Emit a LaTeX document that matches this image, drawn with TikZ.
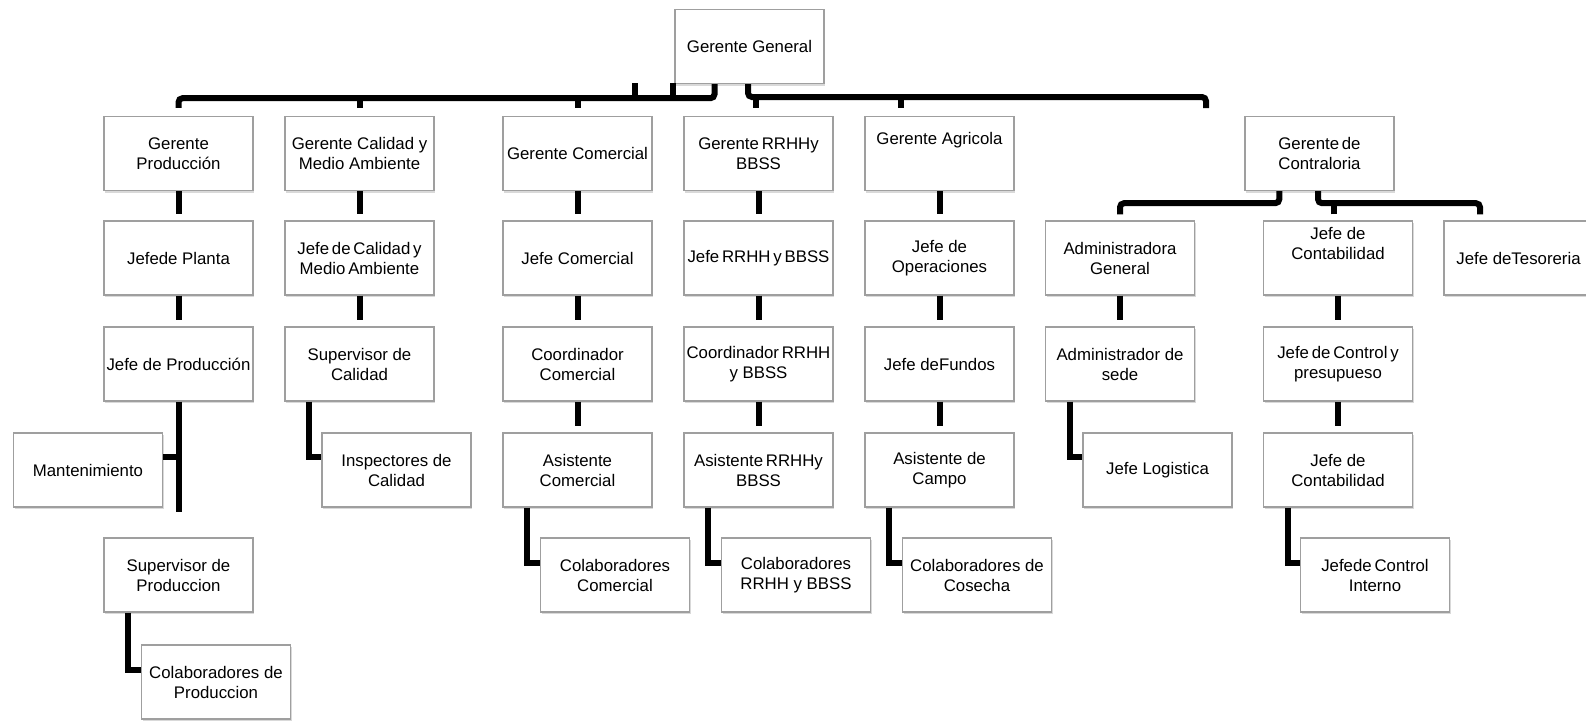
\documentclass[tikz,border=0pt]{standalone}
\usepackage{fontspec}
\setmainfont{Liberation Sans}
\usetikzlibrary{shadows}

\begin{document}
\begin{tikzpicture}[x=0.5pt,y=-0.5pt,
  puesto/.style={draw=gray!75,line width=0.7pt,fill=white,align=center,
    minimum width=74.5pt,minimum height=37pt,inner sep=1pt,
    font=\fontsize{8.4}{10}\selectfont,
    drop shadow={shadow xshift=0.6pt,shadow yshift=-1.2pt,opacity=0.3}},
  arriba/.style={text depth=15pt},
  conn/.style={line width=3pt,line join=miter}]

\useasboundingbox (0,0) rectangle (1586,720);

\node[puesto] (gg) at (749.5,46.5) {Gerente General};

% gerentes
\node[puesto] (gprod) at (178.5,153.5) {Gerente\\Producción};
\node[puesto] (gcal) at (359.5,153.5) {Gerente Calidad y\\Medio Ambiente};
\node[puesto] (gcom) at (577.5,153.5) {Gerente Comercial};
\node[puesto] (grrhh) at (758.5,153.5) {Gerente\,RRHHy\\BBSS};
\node[puesto,arriba] (gagr) at (939.5,153.5) {Gerente Agricola};
\node[puesto] (gcon) at (1319.5,153.5) {Gerente\,de\\Contraloria};

% jefes
\node[puesto] (jplan) at (178.5,258) {Jefede Planta};
\node[puesto] (jcal) at (359.5,258) {Jefe\,de\,Calidad\,y\\Medio\,Ambiente};
\node[puesto] (jcom) at (577.5,258) {Jefe Comercial};
\node[puesto] (jrrhh) at (758.5,258) {Jefe\,RRHH\,y\,BBSS};
\node[puesto] (jope) at (939.5,258) {Jefe de\\Operaciones};
\node[puesto] (adm) at (1120,258) {Administradora\\General};
\node[puesto,arriba] (jcont) at (1338,258) {Jefe de\\Contabilidad};
\node[puesto] (jtes) at (1518.5,258) {Jefe deTesoreria};

\node[puesto] (jprod) at (178.5,364) {Jefe de Producción};
\node[puesto] (scal) at (359.5,364) {Supervisor de\\Calidad};
\node[puesto] (ccom) at (577.5,364) {Coordinador\\Comercial};
\node[puesto] (crrhh) at (758.5,364) {Coordinador\,RRHH\\y BBSS};
\node[puesto] (jfun) at (939.5,364) {Jefe deFundos};
\node[puesto] (asede) at (1120,364) {Administrador de\\sede};
\node[puesto] (jpres) at (1338,364) {Jefe\,de\,Control\,y\\presupueso};

\node[puesto] (mant) at (88,470) {Mantenimiento};
\node[puesto] (insp) at (396.5,470) {Inspectores de\\Calidad};
\node[puesto] (acom) at (577.5,470) {Asistente\\Comercial};
\node[puesto] (arrhh) at (758.5,470) {Asistente\,RRHHy\\BBSS};
\node[puesto] (acam) at (939.5,470) {Asistente de\\Campo};
\node[puesto] (jlog) at (1157.5,470) {Jefe Logistica};
\node[puesto] (jcont2) at (1338,470) {Jefe de\\Contabilidad};

\node[puesto] (sprod) at (178.5,575) {Supervisor de\\Produccion};
\node[puesto] (colcom) at (615,575) {Colaboradores\\Comercial};
\node[puesto] (colrrhh) at (796,575) {Colaboradores\\RRHH y BBSS};
\node[puesto] (colcos) at (977,575) {Colaboradores de\\Cosecha};
\node[puesto] (jint) at (1375,575) {Jefede\,Control\\Interno};

\node[puesto] (colprod) at (216,682) {Colaboradores de\\Produccion};

% barra superior
\coordinate (busl) at (178.5,97);
\coordinate (busr) at (1206,97);
\coordinate (s1) at (635,83);
\coordinate (s2) at (673,83);
\draw[conn,rounded corners=2pt] ([xshift=-17.5pt]gg.south) -- ++(0,14) -| ([yshift=4pt]gprod.north);
\draw[conn] (s1) -- (s1 |- busl);
\draw[conn] (s2) -- (s2 |- busl);
\draw[conn] ([yshift=4pt]gcal.north) -- (gcal.north |- busl);
\draw[conn] ([yshift=4pt]gcom.north) -- (gcom.north |- busl);
\draw[conn,rounded corners=2pt] ([xshift=-0.75pt]gg.south) |- (busr) -- ++(0,11);
\draw[conn] ([xshift=-1.5pt,yshift=4pt]grrhh.north) -- ++(0,-11);
\draw[conn] ([xshift=-19.25pt,yshift=4pt]gagr.north) -- ++(0,-11);

% lineas verticales
\draw[conn] (gprod) -- ([yshift=3pt]jplan.north);
\draw[conn] (jplan) -- ([yshift=3pt]jprod.north);
\draw[conn] (gcal) -- ([yshift=3pt]jcal.north);
\draw[conn] (jcal) -- ([yshift=3pt]scal.north);
\draw[conn] (gcom) -- ([yshift=3pt]jcom.north);
\draw[conn] (jcom) -- ([yshift=3pt]ccom.north);
\draw[conn] (ccom) -- ([yshift=3pt]acom.north);
\draw[conn] (grrhh) -- ([yshift=3pt]jrrhh.north);
\draw[conn] (jrrhh) -- ([yshift=3pt]crrhh.north);
\draw[conn] (crrhh) -- ([yshift=3pt]arrhh.north);
\draw[conn] (gagr) -- ([yshift=3pt]jope.north);
\draw[conn] (jope) -- ([yshift=3pt]jfun.north);
\draw[conn] (jfun) -- ([yshift=3pt]acam.north);
\draw[conn] (adm) -- ([yshift=3pt]asede.north);
\draw[conn] (jcont) -- ([yshift=3pt]jpres.north);
\draw[conn] (jpres) -- ([yshift=3pt]jcont2.north);

% contraloria
\draw[conn,rounded corners=2pt] ([xshift=17.5pt]gcon.south west) -- ++(0,12) -| ([yshift=3pt]adm.north);
\draw[conn,rounded corners=2pt] ([xshift=-0.75pt]gcon.south) -- ++(0,12) -| ([xshift=-19.25pt,yshift=3pt]jtes.north);
\draw[conn] ([xshift=-2pt,yshift=3pt]jcont.north) -- ++(0,-12);

% produccion
\coordinate (pfin) at (178.5,512);
\draw[conn] (jprod) -- (pfin);
\draw[conn] ([yshift=6.5pt]mant.east) -| (jprod.south);

% esquinas
\draw[conn] ([xshift=12.25pt]sprod.south west) |- ([yshift=6pt]colprod.west);
\draw[conn] ([xshift=12.25pt]scal.south west) |- ([yshift=6.5pt]insp.west);
\draw[conn] ([xshift=12.5pt]acom.south west) |- ([yshift=6pt]colcom.west);
\draw[conn] ([xshift=12.25pt]arrhh.south west) |- ([yshift=6pt]colrrhh.west);
\draw[conn] ([xshift=12.25pt]acam.south west) |- ([yshift=6pt]colcos.west);
\draw[conn] ([xshift=12.5pt]asede.south west) |- ([yshift=6.5pt]jlog.west);
\draw[conn] ([xshift=12.5pt]jcont2.south west) |- ([yshift=6pt]jint.west);

\end{tikzpicture}
\end{document}
